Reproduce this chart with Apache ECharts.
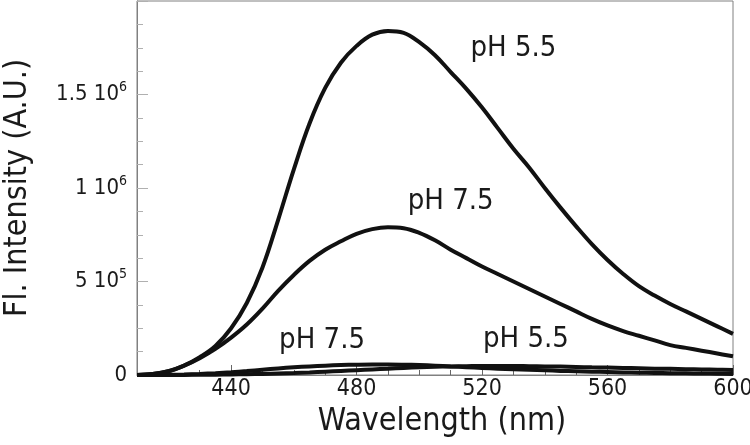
<!DOCTYPE html>
<html>
<head>
<meta charset="UTF-8">
<title>Fluorescence spectra</title>
<script src="https://cdn.jsdelivr.net/npm/echarts@6/dist/echarts.min.js"></script>
<style>
  html, body { margin: 0; padding: 0; background: #fff; }
</style>
</head>
<body>
<div id="main" style="width: 750px; height: 445px;"></div>
<script type="text/javascript">
// wavelength grid (nm), every 5 nm
var wavelengths = [410, 415, 420, 425, 430, 435, 440, 445, 450, 455,
                   460, 465, 470, 475, 480, 485, 490, 495, 500, 505,
                   510, 515, 520, 525, 530, 535, 540, 545, 550, 555,
                   560, 565, 570, 575, 580, 585, 590, 595, 600];

// intensities, in units of 10^6 A.U.
var ph55High = [0, 0.005, 0.02, 0.05, 0.095, 0.155, 0.25, 0.385, 0.575, 0.83,
                1.10, 1.345, 1.535, 1.67, 1.76, 1.82, 1.84, 1.83, 1.78, 1.71,
                1.62, 1.53, 1.43, 1.32, 1.21, 1.11, 1.00, 0.895, 0.795, 0.70,
                0.615, 0.54, 0.475, 0.425, 0.38, 0.34, 0.30, 0.26, 0.22];
var ph75High = [0, 0.005, 0.02, 0.05, 0.09, 0.14, 0.20, 0.27, 0.355, 0.45,
                0.535, 0.61, 0.67, 0.715, 0.755, 0.78, 0.79, 0.785, 0.76, 0.72,
                0.67, 0.625, 0.58, 0.54, 0.50, 0.46, 0.42, 0.38, 0.34, 0.30,
                0.265, 0.235, 0.21, 0.185, 0.16, 0.145, 0.13, 0.115, 0.10];
var ph75Low = [0, 0, 0.001, 0.003, 0.006, 0.01, 0.015, 0.021, 0.028, 0.035,
               0.041, 0.046, 0.05, 0.053, 0.055, 0.056, 0.056, 0.055, 0.053, 0.05,
               0.046, 0.042, 0.038, 0.034, 0.031, 0.028, 0.025, 0.022, 0.02, 0.018,
               0.016, 0.014, 0.012, 0.011, 0.01, 0.009, 0.008, 0.007, 0.006];
var ph55Low = [0, 0, 0, 0.0005, 0.001, 0.002, 0.003, 0.0045, 0.006, 0.0085,
               0.011, 0.014, 0.018, 0.022, 0.026, 0.03, 0.034, 0.038, 0.041, 0.044,
               0.046, 0.047, 0.048, 0.048, 0.048, 0.047, 0.046, 0.045, 0.043, 0.041,
               0.04, 0.038, 0.036, 0.034, 0.033, 0.031, 0.03, 0.028, 0.027];

// x major ticks / labels
var xTicks = [440, 480, 520, 560, 600];

// y tick labels (value in 10^6 -> mantissa, exponent)
var yTickValues = [0, 0.5, 1, 1.5];
var yTickMant = ['0', '5', '1', '1.5'];
var yTickExp = ['', '5', '6', '6'];

// curve annotations
var annoText = ['pH 5.5', 'pH 7.5', 'pH 7.5', 'pH 5.5'];
var annoX = [530, 510, 469, 534];
var annoY = [1.745, 0.93, 0.187, 0.19];

function pairs(xs, ys) {
    var out = [];
    for (var i = 0; i < xs.length; i++) out.push([xs[i], ys[i]]);
    return out;
}

var FONT = "'DejaVu Sans Condensed', 'DejaVu Sans', sans-serif";
var TEXT = '#1a1a1a';

function curve(name, values) {
    return {
        name: name,
        type: 'line',
        data: pairs(wavelengths, values),
        smooth: 0.4,
        showSymbol: false,
        lineStyle: { color: '#111', width: 4 },
        z: 3
    };
}

var annoData = [];
for (var k = 0; k < annoText.length; k++) {
    annoData.push({ value: [annoX[k], annoY[k]], name: annoText[k] });
}

var myChart = echarts.init(document.getElementById('main'));
var option = {
    animation: false,
    backgroundColor: '#fff',
    grid: {
        left: 137, right: 17, top: 1, bottom: 70,
        outerBoundsMode: 'none',
        containLabel: false,
        show: true, borderColor: '#808080', borderWidth: 1
    },
    xAxis: [{
        // minor ticks every 10 nm, labels on the 40 nm marks
        type: 'value',
        min: 410, max: 600, interval: 10,
        name: 'Wavelength (nm)',
        nameLocation: 'middle',
        nameGap: 28,
        nameTextStyle: { fontFamily: FONT, fontSize: 32, color: TEXT, padding: [0, 0, 0, 14] },
        axisLine: { lineStyle: { color: '#808080', width: 1 } },
        axisTick: { inside: true, length: 5, lineStyle: { color: '#666' } },
        splitLine: { show: false },
        axisLabel: {
            margin: 3,
            showMinLabel: false,
            fontFamily: FONT, fontSize: 23, color: TEXT,
            formatter: function (v) { return xTicks.indexOf(v) >= 0 ? String(v) : ''; }
        }
    }, {
        // major ticks
        type: 'value',
        min: 410, max: 600,
        position: 'bottom',
        axisLine: { show: false },
        axisLabel: { show: false },
        splitLine: { show: false },
        axisTick: { show: true, inside: true, length: 10, customValues: xTicks, lineStyle: { color: '#666' } }
    }],
    yAxis: {
        type: 'value',
        min: 0, max: 2, interval: 0.5,
        name: 'Fl. Intensity (A.U.)',
        nameLocation: 'middle',
        nameGap: 103,
        nameTextStyle: { fontFamily: FONT, fontSize: 32, color: TEXT },
        axisLine: { show: true, lineStyle: { color: '#808080', width: 1 } },
        axisTick: { inside: true, length: 11, lineStyle: { color: '#b0b0b0' } },
        minorTick: { show: true, splitNumber: 4, length: 6, lineStyle: { color: '#b0b0b0' } },
        splitLine: { show: false },
        axisLabel: {
            margin: 10,
            fontFamily: FONT, fontSize: 22, color: TEXT,
            formatter: function (v) {
                var i = yTickValues.indexOf(v);
                if (i < 0) return '';
                if (!yTickExp[i]) return '{m|' + yTickMant[i] + '}';
                return '{m|' + yTickMant[i] + ' 10}{e|' + yTickExp[i] + '}';
            },
            rich: {
                m: { fontFamily: FONT, fontSize: 22, color: TEXT },
                e: { fontFamily: FONT, fontSize: 14, color: TEXT, padding: [0, 0, 14, 0] }
            }
        }
    },
    series: [
        curve('pH 5.5', ph55High),
        curve('pH 7.5', ph75High),
        curve('pH 7.5 low', ph75Low),
        curve('pH 5.5 low', ph55Low),
        {
            name: 'labels',
            type: 'scatter',
            data: annoData,
            symbolSize: 0,
            silent: true,
            itemStyle: { opacity: 1, color: 'rgba(0,0,0,0)' },
            label: {
                show: true,
                position: 'inside',
                formatter: '{b}',
                fontFamily: FONT, fontSize: 29, color: TEXT
            },
            z: 4
        }
    ]
};
myChart.setOption(option);
</script>
</body>
</html>
